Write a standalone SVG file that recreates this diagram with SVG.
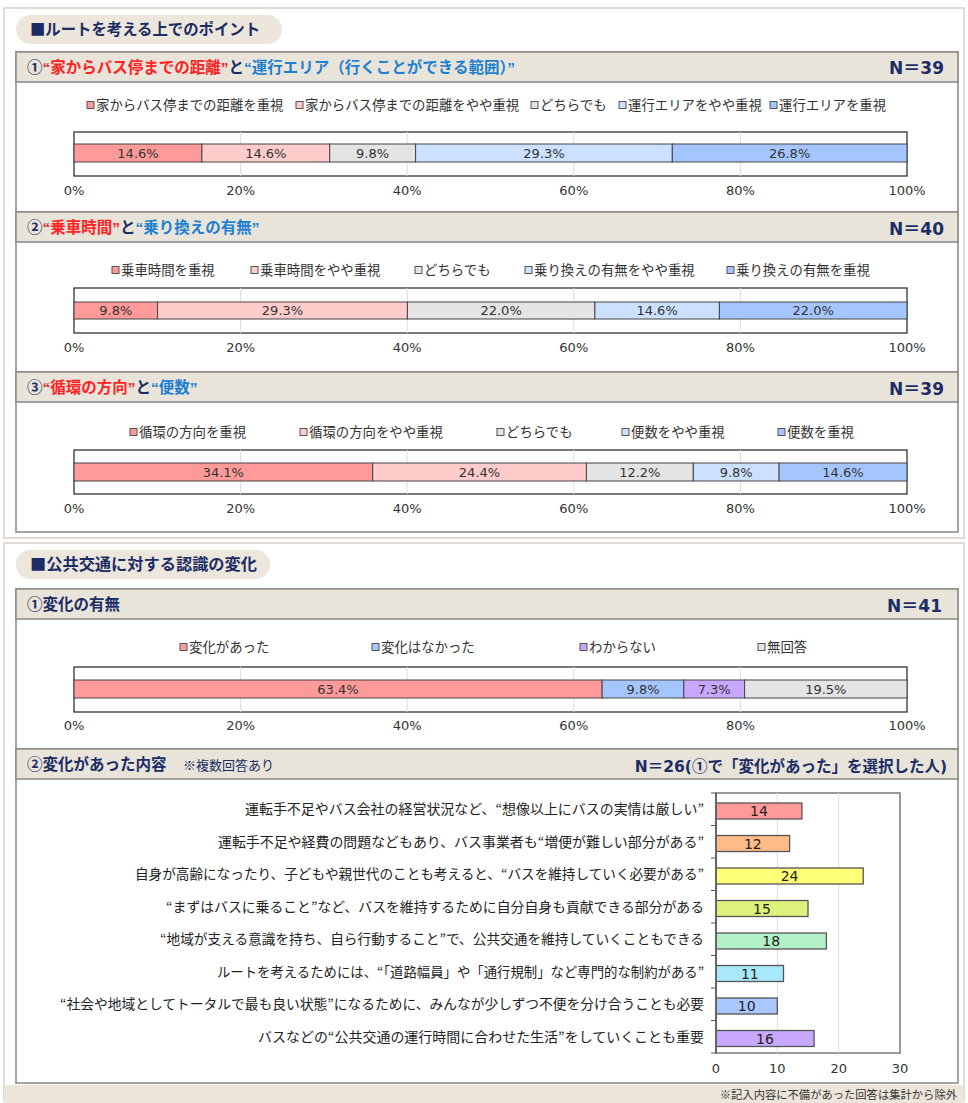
<svg xmlns="http://www.w3.org/2000/svg" width="968" height="1103" viewBox="0 0 968 1103">
<style>
.jp{font-family:'Noto Sans CJK JP','Noto Sans CJK SC',sans-serif}
.num{font-family:'DejaVu Sans','Noto Sans CJK JP',sans-serif}
.pill{fill:#ece6dc}
.ptitle{font-family:'Noto Sans CJK JP',sans-serif;font-size:16px;font-weight:bold;fill:#1c2d66}
.sec{fill:#fff;stroke:#8e8e8e;stroke-width:1.6}
.hdr{fill:#e9e4da;stroke:#8e8e8e;stroke-width:1.6}
.title{font-family:'Liberation Sans','Noto Sans CJK JP',sans-serif;font-size:15.5px;font-weight:bold}
.nv{fill:#1c2d66}
.rd{fill:#ff2222}
.bl{fill:#1f7fd0}
.nlab{font-family:'DejaVu Sans','Noto Sans CJK JP',sans-serif;font-size:17px;font-weight:bold;fill:#1c2d66;text-anchor:end}
.leg{font-family:'Noto Sans CJK JP',sans-serif;font-size:13.4px;fill:#333}
.mk{stroke:#555;stroke-width:1}
.plot{fill:#fff;stroke:#333;stroke-width:1.3}
.grid{stroke:#dcdcdc;stroke-width:1}
.seg{stroke:#444;stroke-width:1}
.blab{font-family:'DejaVu Sans',sans-serif;font-size:13px;fill:#333;text-anchor:middle}
.ax{font-family:'DejaVu Sans',sans-serif;font-size:13px;fill:#333;text-anchor:middle}
.c1{fill:#ff9a9a}.c2{fill:#ffcccc}.c3{fill:#e4e4e4}.c4{fill:#cce0ff}.c5{fill:#a5c5ff}.c6{fill:#c8a8ff}
.hb{stroke:#555;stroke-width:1.3}
.hlab{font-family:'Noto Sans CJK JP',sans-serif;font-size:13.5px;fill:#222;text-anchor:end}
.hnum{font-family:'DejaVu Sans',sans-serif;font-size:14px;fill:#222;text-anchor:middle}
.tick{stroke:#555;stroke-width:1}
</style>
<rect x="0" y="0" width="968" height="1103" fill="#fff"/>
<g id="panel1">
<rect x="4" y="8" width="960" height="530" fill="#fff" stroke="#e2dad6" stroke-width="2"/>
<rect class="pill" x="16" y="15" width="266" height="29" rx="14.5"/>
<text class="ptitle" x="30" y="35" textLength="230" lengthAdjust="spacingAndGlyphs">■ルートを考える上でのポイント</text>
</g>
<g id="panel2">
<rect x="4" y="543" width="960" height="558" fill="#fff" stroke="#e2dad6" stroke-width="2"/>
<rect x="4" y="1085" width="960" height="18" fill="#ebe5da"/>
<rect class="pill" x="16" y="550" width="254" height="29" rx="14.5"/>
<text class="ptitle" x="30" y="570" textLength="227" lengthAdjust="spacingAndGlyphs">■公共交通に対する認識の変化</text>
<text class="jp" x="957" y="1099" font-size="11.3" fill="#333" text-anchor="end">※記入内容に不備があった回答は集計から除外</text>
</g>

<!-- Section 1 -->
<g id="sec1">
<rect class="sec" x="16" y="52" width="942" height="160"/>
<rect class="hdr" x="16" y="52" width="942" height="30"/>
<text class="title" x="27" y="73"><tspan class="nv">①</tspan><tspan class="rd">“家からバス停までの距離”</tspan><tspan class="nv">と</tspan><tspan class="bl">“運行エリア（行くことができる範囲）”</tspan></text>
<text class="nlab" x="944" y="74">N＝39</text>
<rect class="mk c1" x="87" y="101.5" width="7" height="7"/><text class="leg" x="96" y="110">家からバス停までの距離を重視</text>
<rect class="mk c2" x="296" y="101.5" width="7" height="7"/><text class="leg" x="305" y="110">家からバス停までの距離をやや重視</text>
<rect class="mk c3" x="531" y="101.5" width="7" height="7"/><text class="leg" x="540" y="110">どちらでも</text>
<rect class="mk c4" x="619" y="101.5" width="7" height="7"/><text class="leg" x="628" y="110">運行エリアをやや重視</text>
<rect class="mk c5" x="770" y="101.5" width="7" height="7"/><text class="leg" x="779" y="110">運行エリアを重視</text>
<rect class="plot" x="74" y="132" width="833" height="44"/>
<line class="grid" x1="240.6" y1="132" x2="240.6" y2="176"/><line class="grid" x1="407.2" y1="132" x2="407.2" y2="176"/><line class="grid" x1="573.8" y1="132" x2="573.8" y2="176"/><line class="grid" x1="740.4" y1="132" x2="740.4" y2="176"/>
<rect class="seg c1" x="74" y="144" width="127.9" height="18"/>
<rect class="seg c2" x="201.9" y="144" width="127.8" height="18"/>
<rect class="seg c3" x="329.7" y="144" width="85.9" height="18"/>
<rect class="seg c4" x="415.6" y="144" width="256.7" height="18"/>
<rect class="seg c5" x="672.3" y="144" width="234.7" height="18"/>
<text class="blab" x="138" y="157.5">14.6%</text><text class="blab" x="265.8" y="157.5">14.6%</text><text class="blab" x="372.6" y="157.5">9.8%</text><text class="blab" x="544" y="157.5">29.3%</text><text class="blab" x="789.6" y="157.5">26.8%</text>
<text class="ax" x="74" y="195">0%</text><text class="ax" x="240.6" y="195">20%</text><text class="ax" x="407.2" y="195">40%</text><text class="ax" x="573.8" y="195">60%</text><text class="ax" x="740.4" y="195">80%</text><text class="ax" x="907" y="195">100%</text>
</g>

<!-- Section 2 -->
<g id="sec2">
<rect class="sec" x="16" y="212" width="942" height="160"/>
<rect class="hdr" x="16" y="212" width="942" height="30"/>
<text class="title" x="27" y="233"><tspan class="nv">②</tspan><tspan class="rd">“乗車時間”</tspan><tspan class="nv">と</tspan><tspan class="bl">“乗り換えの有無”</tspan></text>
<text class="nlab" x="944" y="235">N＝40</text>
<rect class="mk c1" x="112" y="266.5" width="7" height="7"/><text class="leg" x="121" y="275">乗車時間を重視</text>
<rect class="mk c2" x="251" y="266.5" width="7" height="7"/><text class="leg" x="260" y="275">乗車時間をやや重視</text>
<rect class="mk c3" x="415" y="266.5" width="7" height="7"/><text class="leg" x="424" y="275">どちらでも</text>
<rect class="mk c4" x="525" y="266.5" width="7" height="7"/><text class="leg" x="534" y="275">乗り換えの有無をやや重視</text>
<rect class="mk c5" x="727" y="266.5" width="7" height="7"/><text class="leg" x="736" y="275">乗り換えの有無を重視</text>
<rect class="plot" x="74" y="288" width="833" height="45"/>
<line class="grid" x1="240.6" y1="288" x2="240.6" y2="333"/><line class="grid" x1="407.2" y1="288" x2="407.2" y2="333"/><line class="grid" x1="573.8" y1="288" x2="573.8" y2="333"/><line class="grid" x1="740.4" y1="288" x2="740.4" y2="333"/>
<rect class="seg c1" x="74" y="302" width="83.6" height="17"/>
<rect class="seg c2" x="157.6" y="302" width="249.8" height="17"/>
<rect class="seg c3" x="407.4" y="302" width="187.5" height="17"/>
<rect class="seg c4" x="594.9" y="302" width="124.5" height="17"/>
<rect class="seg c5" x="719.4" y="302" width="187.6" height="17"/>
<text class="blab" x="115.8" y="315">9.8%</text><text class="blab" x="282.5" y="315">29.3%</text><text class="blab" x="501.1" y="315">22.0%</text><text class="blab" x="657.1" y="315">14.6%</text><text class="blab" x="813.2" y="315">22.0%</text>
<text class="ax" x="74" y="352">0%</text><text class="ax" x="240.6" y="352">20%</text><text class="ax" x="407.2" y="352">40%</text><text class="ax" x="573.8" y="352">60%</text><text class="ax" x="740.4" y="352">80%</text><text class="ax" x="907" y="352">100%</text>
</g>

<!-- Section 3 -->
<g id="sec3">
<rect class="sec" x="16" y="372" width="942" height="160"/>
<rect class="hdr" x="16" y="372" width="942" height="30"/>
<text class="title" x="27" y="393"><tspan class="nv">③</tspan><tspan class="rd">“循環の方向”</tspan><tspan class="nv">と</tspan><tspan class="bl">“便数”</tspan></text>
<text class="nlab" x="944" y="395">N＝39</text>
<rect class="mk c1" x="130" y="428.5" width="7" height="7"/><text class="leg" x="139" y="437">循環の方向を重視</text>
<rect class="mk c2" x="300" y="428.5" width="7" height="7"/><text class="leg" x="309" y="437">循環の方向をやや重視</text>
<rect class="mk c3" x="497" y="428.5" width="7" height="7"/><text class="leg" x="506" y="437">どちらでも</text>
<rect class="mk c4" x="622" y="428.5" width="7" height="7"/><text class="leg" x="631" y="437">便数をやや重視</text>
<rect class="mk c5" x="778" y="428.5" width="7" height="7"/><text class="leg" x="787" y="437">便数を重視</text>
<rect class="plot" x="74" y="450" width="833" height="44"/>
<line class="grid" x1="240.6" y1="450" x2="240.6" y2="494"/><line class="grid" x1="407.2" y1="450" x2="407.2" y2="494"/><line class="grid" x1="573.8" y1="450" x2="573.8" y2="494"/><line class="grid" x1="740.4" y1="450" x2="740.4" y2="494"/>
<rect class="seg c1" x="74" y="463" width="298.7" height="18"/>
<rect class="seg c2" x="372.7" y="463" width="213.7" height="18"/>
<rect class="seg c3" x="586.4" y="463" width="106.9" height="18"/>
<rect class="seg c4" x="693.3" y="463" width="85.8" height="18"/>
<rect class="seg c5" x="779.1" y="463" width="127.9" height="18"/>
<text class="blab" x="223.3" y="476.5">34.1%</text><text class="blab" x="479.5" y="476.5">24.4%</text><text class="blab" x="639.8" y="476.5">12.2%</text><text class="blab" x="736.2" y="476.5">9.8%</text><text class="blab" x="843" y="476.5">14.6%</text>
<text class="ax" x="74" y="513">0%</text><text class="ax" x="240.6" y="513">20%</text><text class="ax" x="407.2" y="513">40%</text><text class="ax" x="573.8" y="513">60%</text><text class="ax" x="740.4" y="513">80%</text><text class="ax" x="907" y="513">100%</text>
</g>

<!-- Section 4 -->
<g id="sec4">
<rect class="sec" x="16" y="589" width="942" height="160"/>
<rect class="hdr" x="16" y="589" width="942" height="30"/>
<text class="title nv" x="27" y="610" font-size="16">①変化の有無</text>
<text class="nlab" x="942" y="612">N＝41</text>
<rect class="mk c1" x="180" y="643.5" width="7" height="7"/><text class="leg" x="189" y="652">変化があった</text>
<rect class="mk c5" x="372" y="643.5" width="7" height="7"/><text class="leg" x="381" y="652">変化はなかった</text>
<rect class="mk c6" x="580" y="643.5" width="7" height="7"/><text class="leg" x="589" y="652">わからない</text>
<rect class="mk c3" x="758" y="643.5" width="7" height="7"/><text class="leg" x="767" y="652">無回答</text>
<rect class="plot" x="74" y="667" width="833" height="45"/>
<line class="grid" x1="240.6" y1="667" x2="240.6" y2="712"/><line class="grid" x1="407.2" y1="667" x2="407.2" y2="712"/><line class="grid" x1="573.8" y1="667" x2="573.8" y2="712"/><line class="grid" x1="740.4" y1="667" x2="740.4" y2="712"/>
<rect class="seg c1" x="74" y="680" width="528.1" height="18"/>
<rect class="seg c5" x="602.1" y="680" width="81.7" height="18"/>
<rect class="seg c6" x="683.8" y="680" width="60.8" height="18"/>
<rect class="seg c3" x="744.6" y="680" width="162.4" height="18"/>
<text class="blab" x="338" y="693.5">63.4%</text><text class="blab" x="643" y="693.5">9.8%</text><text class="blab" x="714.2" y="693.5">7.3%</text><text class="blab" x="825.8" y="693.5">19.5%</text>
<text class="ax" x="74" y="730">0%</text><text class="ax" x="240.6" y="730">20%</text><text class="ax" x="407.2" y="730">40%</text><text class="ax" x="573.8" y="730">60%</text><text class="ax" x="740.4" y="730">80%</text><text class="ax" x="907" y="730">100%</text>
</g>

<!-- Section 5 -->
<g id="sec5">
<rect class="sec" x="16" y="749" width="942" height="334"/>
<rect class="hdr" x="16" y="749" width="942" height="30"/>
<text class="title nv" x="27" y="770" font-size="16">②変化があった内容</text>
<text class="jp nv" x="183" y="770" font-size="13">※複数回答あり</text>
<text class="title nv" x="947" y="772" font-size="15.5" text-anchor="end"><tspan class="num">N＝26(</tspan>①で「変化があった」を選択した人<tspan class="num">)</tspan></text>
<rect x="716" y="793" width="184" height="260" fill="#fff" stroke="#999" stroke-width="2"/>
<line class="grid" x1="777.3" y1="793" x2="777.3" y2="1053"/><line class="grid" x1="838.7" y1="793" x2="838.7" y2="1053"/>
<line class="tick" x1="711" y1="793" x2="716" y2="793"/><line class="tick" x1="711" y1="825.5" x2="716" y2="825.5"/><line class="tick" x1="711" y1="858" x2="716" y2="858"/><line class="tick" x1="711" y1="890.5" x2="716" y2="890.5"/><line class="tick" x1="711" y1="923" x2="716" y2="923"/><line class="tick" x1="711" y1="955.5" x2="716" y2="955.5"/><line class="tick" x1="711" y1="988" x2="716" y2="988"/><line class="tick" x1="711" y1="1020.5" x2="716" y2="1020.5"/><line class="tick" x1="711" y1="1053" x2="716" y2="1053"/>
<rect class="hb" x="716" y="803" width="85.9" height="16" fill="#ff9a9a"/>
<rect class="hb" x="716" y="835.5" width="73.6" height="16" fill="#ffbb88"/>
<rect class="hb" x="716" y="868" width="147.2" height="16" fill="#ffff77"/>
<rect class="hb" x="716" y="900.5" width="92" height="16" fill="#ddf27a"/>
<rect class="hb" x="716" y="933" width="110.4" height="16" fill="#b2f0c8"/>
<rect class="hb" x="716" y="965.5" width="67.5" height="16" fill="#a8e8fa"/>
<rect class="hb" x="716" y="998" width="61.3" height="16" fill="#a8c8ff"/>
<rect class="hb" x="716" y="1030.5" width="98.1" height="16" fill="#c8a8ff"/>
<line x1="716" y1="793" x2="716" y2="1053" stroke="#666" stroke-width="2"/>
<text class="hnum" x="759" y="816">14</text>
<text class="hnum" x="752.8" y="848.5">12</text>
<text class="hnum" x="789.6" y="881">24</text>
<text class="hnum" x="762" y="913.5">15</text>
<text class="hnum" x="771.2" y="946">18</text>
<text class="hnum" x="749.8" y="978.5">11</text>
<text class="hnum" x="746.7" y="1011">10</text>
<text class="hnum" x="765" y="1043.5">16</text>
<text class="hlab" x="704" y="814" textLength="459" lengthAdjust="spacingAndGlyphs">運転手不足やバス会社の経営状況など、“想像以上にバスの実情は厳しい”</text>
<text class="hlab" x="704" y="846.5" textLength="486" lengthAdjust="spacingAndGlyphs">運転手不足や経費の問題などもあり、バス事業者も“増便が難しい部分がある”</text>
<text class="hlab" x="704" y="879" textLength="569" lengthAdjust="spacingAndGlyphs">自身が高齢になったり、子どもや親世代のことも考えると、“バスを維持していく必要がある”</text>
<text class="hlab" x="704" y="911.5" textLength="538" lengthAdjust="spacingAndGlyphs">“まずはバスに乗ること”など、バスを維持するために自分自身も貢献できる部分がある</text>
<text class="hlab" x="704" y="944" textLength="544" lengthAdjust="spacingAndGlyphs">“地域が支える意識を持ち、自ら行動すること”で、公共交通を維持していくこともできる</text>
<text class="hlab" x="704" y="976.5" textLength="487" lengthAdjust="spacingAndGlyphs">ルートを考えるためには、“「道路幅員」や「通行規制」など専門的な制約がある”</text>
<text class="hlab" x="704" y="1009" textLength="644" lengthAdjust="spacingAndGlyphs">“社会や地域としてトータルで最も良い状態”になるために、みんなが少しずつ不便を分け合うことも必要</text>
<text class="hlab" x="704" y="1041.5" textLength="446" lengthAdjust="spacingAndGlyphs">バスなどの“公共交通の運行時間に合わせた生活”をしていくことも重要</text>
<text class="ax" x="716" y="1073">0</text><text class="ax" x="777.3" y="1073">10</text><text class="ax" x="838.7" y="1073">20</text><text class="ax" x="900" y="1073">30</text>
</g>
</svg>
